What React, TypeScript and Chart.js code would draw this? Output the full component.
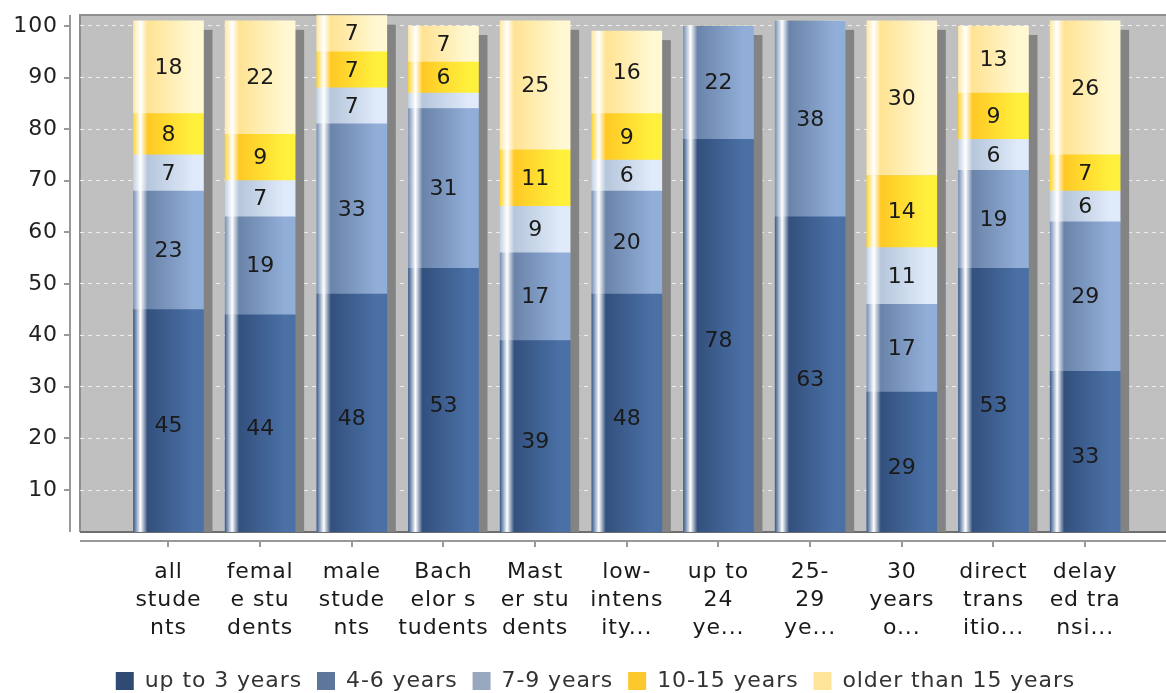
import React, { useEffect, useRef } from "react";
import { Chart, registerables } from "chart.js";

Chart.register(...registerables);

// ---------- data ----------
const CATEGORIES: string[][] = [
  ["all", "stude", "nts"],
  ["femal", "e stu", "dents"],
  ["male", "stude", "nts"],
  ["Bach", "elor s", "tudents"],
  ["Mast", "er stu", "dents"],
  ["low-", "intens", "ity..."],
  ["up to", "24", "ye..."],
  ["25-", "29", "ye..."],
  ["30", "years", "o..."],
  ["direct", "trans", "itio..."],
  ["delay", "ed tra", "nsi..."],
];

const SERIES = ["up to 3 years", "4-6 years", "7-9 years", "10-15 years", "older than 15 years"];

const UP_TO_3 = [45, 44, 48, 53, 39, 48, 78, 63, 29, 53, 33];
const YEARS_4_6 = [23, 19, 33, 31, 17, 20, 22, 38, 17, 19, 29];
const YEARS_7_9 = [7, 7, 7, 3, 9, 6, 0, 0, 11, 6, 6];
const YEARS_10_15 = [8, 9, 7, 6, 11, 9, 0, 0, 14, 9, 7];
const OLDER_15 = [18, 22, 7, 7, 25, 16, 0, 0, 30, 13, 26];

const Y_TICKS = [10, 20, 30, 40, 50, 60, 70, 80, 90, 100];

// ---------- styles ----------
const SERIES_VALUES = [UP_TO_3, YEARS_4_6, YEARS_7_9, YEARS_10_15, OLDER_15];
const LEGEND_COLORS = ["#2f4b74", "#5e769a", "#98a8c0", "#fcc82e", "#ffe598"];
const BAR_COLORS: [string, string, string][] = [
  ["#3d5e8e", "#33507d", "#4a70a6"],
  ["#7a93b8", "#6a83a9", "#91aed8"],
  ["#c3d2e4", "#b6c6db", "#dfeafa"],
  ["#ffd633", "#ffc925", "#fff03c"],
  ["#ffe9a6", "#ffe393", "#fff8d2"],
];
const FONT = "'DejaVu Sans', sans-serif";
const FS = 22;
const SPACING = "0.9px";
const BAR_PX = 70;
const SHADOW = 9;
const W = 1166;
const H = 693;
const PAD_RIGHT = -25;
const PAD_BOTTOM = -9;
const PLOT_BOTTOM_GAP = H - 532; // space under the plot area

function barFill(ctx: any, i: number) {
  const [edge, c0, c1] = BAR_COLORS[i];
  const chart = ctx.chart;
  const xs = chart.scales ? chart.scales.x : null;
  if (ctx.type !== "data" || !xs || !chart.chartArea) return c0;
  const cx = xs.getPixelForValue(ctx.dataIndex);
  if (!isFinite(cx)) return c0;
  const l = cx - BAR_PX / 2;
  const g = chart.ctx.createLinearGradient(l, 0, l + BAR_PX, 0);
  g.addColorStop(0, edge);
  g.addColorStop(0.1, "#ffffff");
  g.addColorStop(0.2, c0);
  g.addColorStop(0.85, c1);
  g.addColorStop(1, c1);
  return g;
}

const spacing = {
  id: "spacing",
  beforeUpdate(chart: any) {
    chart.ctx.letterSpacing = SPACING;
  },
  beforeDraw(chart: any) {
    chart.ctx.letterSpacing = SPACING;
  },
};

const plotBg = {
  id: "plotBg",
  beforeDraw(chart: any) {
    const { ctx, chartArea: a } = chart;
    ctx.save();
    ctx.fillStyle = "#c0c0c0";
    ctx.fillRect(a.left, a.top, a.right - a.left, a.bottom - a.top);
    ctx.strokeStyle = "#8e8e8e";
    ctx.lineWidth = 2;
    ctx.beginPath();
    ctx.moveTo(a.left, a.bottom);
    ctx.lineTo(a.left, a.top);
    ctx.lineTo(a.right, a.top);
    ctx.stroke();
    ctx.strokeStyle = "#6e6e6e";
    ctx.beginPath();
    ctx.moveTo(a.left, a.bottom);
    ctx.lineTo(a.right, a.bottom);
    ctx.stroke();
    ctx.restore();
  },
};

const shadows = {
  id: "shadows",
  beforeDatasetsDraw(chart: any) {
    const { ctx, chartArea: a } = chart;
    const n = CATEGORIES.length;
    ctx.save();
    ctx.beginPath();
    ctx.rect(a.left, a.top, a.right - a.left, a.bottom - a.top);
    ctx.clip();
    ctx.fillStyle = "#838383";
    for (let j = 0; j < n; j++) {
      let top = Infinity;
      let x = 0;
      let w = BAR_PX;
      SERIES_VALUES.forEach((vals, i) => {
        const el = chart.getDatasetMeta(i).data[j];
        if (el && vals[j] > 0) {
          top = Math.min(top, el.y);
          x = el.x;
          w = el.width;
        }
      });
      if (top === Infinity) continue;
      ctx.fillRect(x - w / 2 + SHADOW, top + SHADOW, w, a.bottom - top);
    }
    ctx.restore();
  },
};

const valueLabels = {
  id: "valueLabels",
  afterDatasetsDraw(chart: any) {
    const { ctx } = chart;
    ctx.save();
    ctx.letterSpacing = "0px";
    ctx.font = `${FS}px ${FONT}`;
    ctx.fillStyle = "#1a1a1a";
    ctx.textAlign = "center";
    ctx.textBaseline = "middle";
    SERIES_VALUES.forEach((vals, i) => {
      const meta = chart.getDatasetMeta(i);
      meta.data.forEach((el: any, j: number) => {
        const v = vals[j];
        if (v < 5) return;
        ctx.fillText(String(v), el.x, (el.y + el.base) / 2 + 1);
      });
    });
    ctx.restore();
  },
};

const axesLines = {
  id: "axesLines",
  afterDraw(chart: any) {
    const { ctx, chartArea: a, scales } = chart;
    ctx.save();
    ctx.strokeStyle = "#999999";
    ctx.lineWidth = 2;
    // y axis
    const ax = a.left - 10;
    ctx.beginPath();
    ctx.moveTo(ax, a.top);
    ctx.lineTo(ax, a.bottom);
    Y_TICKS.forEach((t) => {
      const y = Math.round(scales.y.getPixelForValue(t));
      ctx.moveTo(ax - 6, y);
      ctx.lineTo(ax, y);
    });
    ctx.stroke();
    // x axis
    const ay = a.bottom + 9;
    ctx.beginPath();
    ctx.moveTo(a.left, ay);
    ctx.lineTo(a.right, ay);
    CATEGORIES.forEach((_, i) => {
      const x = Math.round(scales.x.getPixelForValue(i));
      ctx.moveTo(x, ay);
      ctx.lineTo(x, ay + 6);
    });
    ctx.stroke();
    ctx.restore();
  },
};

export default function App() {
  const ref = useRef<HTMLCanvasElement>(null);
  useEffect(() => {
    document.body.style.margin = "0";
    const canvas = ref.current!;
    const datasets = SERIES_VALUES.map((vals, i) => ({
      label: SERIES[i],
      data: vals.map((v, j) => ({ x: j, y: v })),
      backgroundColor: (c: any) => barFill(c, i),
      borderWidth: 0,
      barThickness: BAR_PX,
      stack: "s",
    }));
    const chart = new Chart(canvas, {
      type: "bar",
      data: { datasets } as any,
      options: {
        responsive: false,
        animation: false,
        devicePixelRatio: 1,
        layout: { padding: { left: 0, top: 15, right: PAD_RIGHT, bottom: PAD_BOTTOM } },
        scales: {
          x: {
            type: "linear",
            stacked: true,
            offset: false,
            min: -0.965,
            max: 10.882,
            grid: { display: false, drawTicks: false },
            border: { display: false },
            afterBuildTicks: (s: any) => {
              s.ticks = CATEGORIES.map((_, i) => ({ value: i }));
            },
            afterFit: (s: any) => {
              const lh = s.chart.legend ? s.chart.legend.height : 40;
              s.height = PLOT_BOTTOM_GAP - lh - PAD_BOTTOM;
              s.paddingLeft = 0;
              s.paddingRight = 0;
            },
            ticks: {
              autoSkip: false,
              maxRotation: 0,
              minRotation: 0,
              padding: 26,
              color: "#1a1a1a",
              font: { family: FONT, size: FS, lineHeight: 28 / FS },
              callback: (v: any) => CATEGORIES[Math.round(Number(v))] ?? "",
            },
          },
          y: {
            type: "linear",
            stacked: true,
            min: 1.86,
            max: 102.13,
            grid: {
              color: "#eeeeee",
              lineWidth: 1,
              drawTicks: false,
            },
            border: { display: false, dash: [4, 4] },
            afterBuildTicks: (s: any) => {
              s.ticks = Y_TICKS.map((v) => ({ value: v }));
            },
            afterFit: (s: any) => {
              s.width = 80;
              s.paddingTop = 0;
              s.paddingBottom = 0;
            },
            ticks: {
              padding: 22,
              color: "#222222",
              font: { family: FONT, size: FS },
            },
          },
        },
        plugins: {
          legend: {
            position: "bottom",
            labels: {
              boxWidth: 18,
              boxHeight: 18,
              padding: 15,
              color: "#333333",
              font: { family: FONT, size: FS },
              generateLabels: () =>
                SERIES.map((s, i) => ({
                  text: s,
                  fillStyle: LEGEND_COLORS[i],
                  strokeStyle: LEGEND_COLORS[i],
                  lineWidth: 0,
                  hidden: false,
                  datasetIndex: i,
                  fontColor: "#333333",
                })),
            },
          },
          tooltip: { enabled: false },
        },
      },
      plugins: [spacing, plotBg, shadows, valueLabels, axesLines],
    } as any);
    return () => chart.destroy();
  }, []);
  return <canvas ref={ref} width={W} height={H} style={{ display: "block" }} />;
}
